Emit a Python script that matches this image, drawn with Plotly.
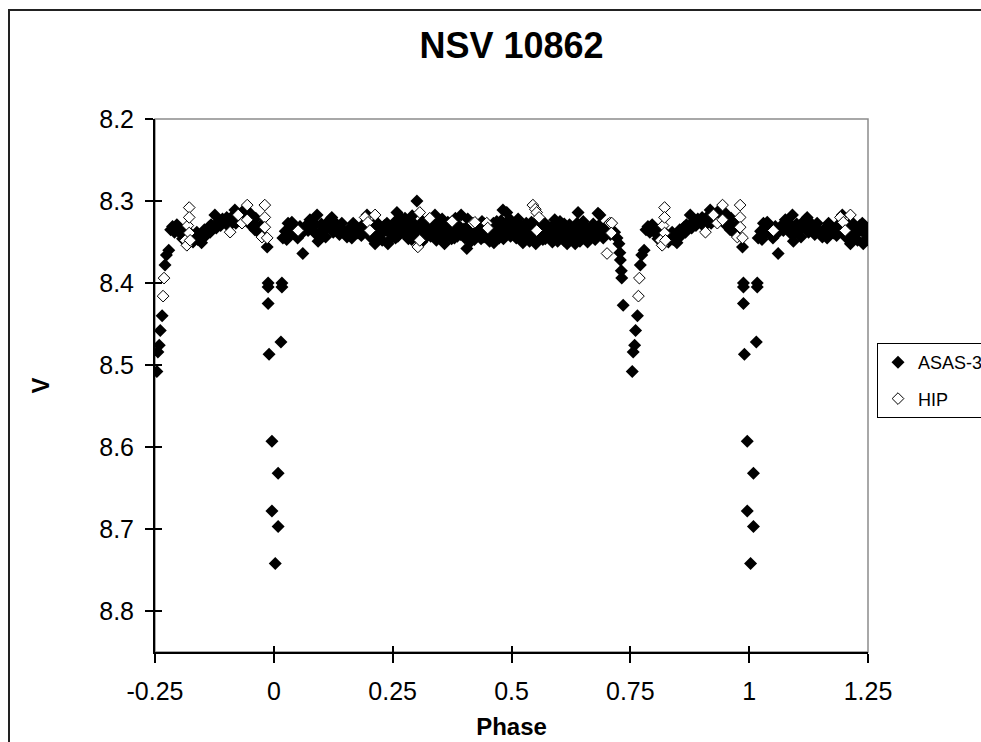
import plotly.graph_objects as go

# ---------------- data (one cycle, phase in [-0.25, 0.75)) ----------------
asas_phase = [
    -0.246, -0.244, -0.241, -0.239, -0.235, -0.229, -0.226, -0.221, -0.217, -0.213,
    -0.209, -0.204, -0.196, -0.192, -0.187, -0.170, -0.165, -0.160, -0.155, -0.150,
    -0.146, -0.141, -0.137, -0.132, -0.128, -0.124, -0.118, -0.112, -0.104, -0.099,
    -0.092, -0.086, -0.082, -0.077, -0.071, -0.066, -0.061, -0.050, -0.046, -0.043,
    -0.038, -0.035, -0.031, -0.027, -0.014, -0.012, -0.012, -0.012, -0.010, -0.004,
    -0.004,
    0.003, 0.009, 0.009, 0.015, 0.017, 0.017, 0.019, 0.024, 0.030, 0.034,
    0.038, 0.045, 0.050, 0.055, 0.061, 0.068, 0.076, 0.082, 0.088, 0.093,
    0.091, 0.100, 0.106, 0.112, 0.118, 0.122, 0.125, 0.130, 0.133, 0.138,
    0.143, 0.146, 0.150, 0.154, 0.160, 0.164, 0.167, 0.172, 0.177, 0.181,
    0.186, 0.188, 0.196, 0.200, 0.206, 0.209, 0.213, 0.218, 0.222, 0.228,
    0.233, 0.238, 0.240, 0.245,
    0.252, 0.256, 0.259, 0.263, 0.267, 0.270, 0.275, 0.279, 0.283, 0.287,
    0.291, 0.294, 0.298, 0.301, 0.305, 0.309, 0.313, 0.317, 0.321, 0.325,
    0.330, 0.334, 0.338, 0.342, 0.346, 0.350, 0.354, 0.358, 0.362, 0.366,
    0.370, 0.374, 0.378, 0.382, 0.386, 0.390, 0.394, 0.398, 0.402, 0.406,
    0.410, 0.414, 0.418, 0.422, 0.426, 0.430, 0.434, 0.438, 0.442, 0.446,
    0.450, 0.454, 0.458, 0.462, 0.466, 0.470, 0.474, 0.478, 0.482, 0.486,
    0.490, 0.494, 0.498,
    0.502, 0.506, 0.510, 0.514, 0.518, 0.522, 0.526, 0.530, 0.534, 0.538,
    0.542, 0.546, 0.550, 0.554, 0.558, 0.562, 0.566, 0.570, 0.574, 0.578,
    0.582, 0.586, 0.590, 0.594, 0.598, 0.602, 0.606, 0.610, 0.614, 0.618,
    0.622, 0.626, 0.630, 0.634, 0.638, 0.640, 0.644, 0.648, 0.652, 0.656,
    0.660, 0.664, 0.668, 0.672, 0.676, 0.682, 0.686, 0.690, 0.693, 0.698,
    0.703, 0.708, 0.712, 0.717, 0.722, 0.726, 0.728, 0.729, 0.731, 0.732,
    0.735,
    # second night of observations (interleaved)
    -0.200, -0.183, -0.175, -0.162, -0.152, -0.143, -0.134, -0.121, -0.108, -0.095,
    -0.080, -0.068, -0.056, -0.048, -0.040,
    0.027, 0.041, 0.058, 0.072, 0.085, 0.097, 0.109, 0.115, 0.128, 0.141,
    0.157, 0.170, 0.184, 0.192, 0.203, 0.216, 0.226, 0.236, 0.243, 0.248,
    0.254, 0.261, 0.268, 0.276, 0.284, 0.290, 0.297, 0.303, 0.311, 0.318,
    0.324, 0.331, 0.339, 0.345, 0.352, 0.359, 0.366, 0.372, 0.380, 0.387,
    0.393, 0.400, 0.408, 0.415, 0.421, 0.428, 0.436, 0.443, 0.449, 0.456,
    0.463, 0.469, 0.476, 0.483, 0.489, 0.496, 0.503, 0.510, 0.517, 0.524,
    0.531, 0.537, 0.544, 0.551, 0.557, 0.564, 0.571, 0.577, 0.584, 0.591,
    0.597, 0.604, 0.611, 0.617, 0.624, 0.631, 0.637, 0.644, 0.651, 0.657,
    0.664, 0.671, 0.678, 0.684,
]
asas_v = [
    8.508, 8.484, 8.476, 8.458, 8.440, 8.378, 8.366, 8.360, 8.335, 8.331,
    8.338, 8.329, 8.340, 8.346, 8.337, 8.350, 8.344, 8.347, 8.345, 8.339,
    8.335, 8.337, 8.332, 8.329, 8.331, 8.317, 8.326, 8.330, 8.324, 8.320,
    8.327, 8.318, 8.311, 8.322, 8.321, 8.316, 8.310, 8.315, 8.320, 8.327,
    8.321, 8.332, 8.339, 8.330, 8.356, 8.400, 8.405, 8.425, 8.487, 8.593,
    8.678,
    8.742, 8.632, 8.697, 8.472, 8.400, 8.405, 8.345, 8.337, 8.327, 8.340,
    8.326, 8.335, 8.345, 8.331, 8.364, 8.330, 8.323, 8.332, 8.340, 8.349,
    8.317, 8.328, 8.335, 8.327, 8.323, 8.320, 8.338, 8.331, 8.332, 8.341,
    8.327, 8.336, 8.340, 8.344, 8.333, 8.345, 8.327, 8.336, 8.339, 8.336,
    8.330, 8.332, 8.317, 8.338, 8.332, 8.330, 8.352, 8.342, 8.335, 8.348,
    8.330, 8.327, 8.352, 8.340,
    8.333, 8.345, 8.314, 8.338, 8.327, 8.322, 8.340, 8.333, 8.346, 8.329,
    8.318, 8.336, 8.342, 8.300, 8.331, 8.339, 8.325, 8.346, 8.335, 8.330,
    8.343, 8.337, 8.326, 8.348, 8.333, 8.339, 8.322, 8.344, 8.335, 8.341,
    8.328, 8.346, 8.337, 8.321, 8.343, 8.333, 8.317, 8.339, 8.345, 8.358,
    8.330, 8.340, 8.336, 8.347, 8.329, 8.341, 8.334, 8.325, 8.344, 8.337,
    8.330, 8.349, 8.336, 8.327, 8.342, 8.333, 8.345, 8.324, 8.311, 8.338,
    8.314, 8.335, 8.343,
    8.329, 8.340, 8.333, 8.322, 8.346, 8.337, 8.330, 8.343, 8.335, 8.349,
    8.326, 8.338, 8.344, 8.331, 8.340, 8.334, 8.347, 8.327, 8.339, 8.343,
    8.333, 8.350, 8.330, 8.338, 8.345, 8.325, 8.337, 8.348, 8.333, 8.341,
    8.329, 8.346, 8.336, 8.352, 8.327, 8.314, 8.339, 8.334, 8.345, 8.331,
    8.350, 8.337, 8.342, 8.328, 8.347, 8.315, 8.317, 8.338, 8.345, 8.333,
    8.329, 8.341, 8.336, 8.338, 8.345, 8.352, 8.363, 8.372, 8.385, 8.394,
    8.427,
    # second night of observations (interleaved)
    8.334, 8.343, 8.340, 8.338, 8.351, 8.342, 8.338, 8.333, 8.322, 8.331,
    8.327, 8.325, 8.319, 8.330, 8.335,
    8.347, 8.333, 8.340, 8.336, 8.327, 8.338, 8.344, 8.331, 8.326, 8.334,
    8.338, 8.330, 8.342, 8.328, 8.344, 8.326, 8.340, 8.336, 8.331, 8.345,
    8.326, 8.343, 8.335, 8.321, 8.338, 8.347, 8.329, 8.337, 8.350, 8.328,
    8.341, 8.334, 8.317, 8.344, 8.331, 8.352, 8.326, 8.338, 8.345, 8.329,
    8.341, 8.334, 8.322, 8.349, 8.331, 8.338, 8.346, 8.328, 8.340, 8.333,
    8.351, 8.325, 8.339, 8.346, 8.331, 8.322, 8.338, 8.345, 8.330, 8.351,
    8.327, 8.340, 8.333, 8.352, 8.324, 8.338, 8.346, 8.331, 8.340, 8.323,
    8.349, 8.336, 8.328, 8.352, 8.338, 8.344, 8.331, 8.349, 8.325, 8.340,
    8.346, 8.335, 8.341, 8.330,
]

hip_phase = [
    -0.233, -0.231, -0.186, -0.183, -0.181, -0.178, -0.178, -0.178, -0.176, -0.092,
    -0.075, -0.067, -0.056, -0.056, -0.025, -0.019, -0.019, -0.019, -0.014,
    0.051, 0.192, 0.198, 0.202, 0.213,
    0.303, 0.307, 0.307, 0.328, 0.375, 0.419, 0.423, 0.448, 0.450,
    0.545, 0.550, 0.553, 0.553, 0.558, 0.701, 0.707, 0.711, 0.710,
]
hip_v = [
    8.416, 8.394, 8.348, 8.354, 8.330, 8.308, 8.320, 8.339, 8.348, 8.338,
    8.317, 8.327, 8.305, 8.323, 8.344, 8.305, 8.320, 8.332, 8.345,
    8.336, 8.320, 8.326, 8.336, 8.317,
    8.356, 8.314, 8.348, 8.321, 8.325, 8.327, 8.326, 8.327, 8.333,
    8.305, 8.310, 8.314, 8.336, 8.320, 8.364, 8.327, 8.327, 8.339,
]

x_tickvals = [-0.25, 0, 0.25, 0.5, 0.75, 1, 1.25]
x_ticktext = ["-0.25", "0", "0.25", "0.5", "0.75", "1", "1.25"]
y_tickvals = [8.2, 8.3, 8.4, 8.5, 8.6, 8.7, 8.8]
y_ticktext = ["8.2", "8.3", "8.4", "8.5", "8.6", "8.7", "8.8"]

TITLE = "NSV 10862"
X_TITLE = "Phase"
Y_TITLE = "V"


def fold(phases, values):
    """Phase-fold over -0.25..1.25: points in [-0.25, 0.25) repeat one cycle later."""
    px, py = list(phases), list(values)
    for p, v in zip(phases, values):
        if p < 0.25 and p + 1 <= 1.25:
            px.append(p + 1)
            py.append(v)
    return px, py


ax, ay = fold(asas_phase, asas_v)
hx, hy = fold(hip_phase, hip_v)

FONT = "Liberation Sans, Arial, sans-serif"

fig = go.Figure()
fig.add_trace(go.Scatter(
    x=ax, y=ay, mode="markers", name="ASAS-3", legendgroup="a",
    marker=dict(symbol="diamond", size=10, color="black", line=dict(width=0)),
))
fig.add_trace(go.Scatter(
    x=hx, y=hy, mode="markers", name="HIP", legendgroup="b",
    marker=dict(symbol="diamond", size=9, color="white", line=dict(width=1, color="black")),
))
# helper trace to carry the inner half of the crossing tick marks
fig.add_trace(go.Scatter(x=[None], y=[None], xaxis="x2", yaxis="y2",
                         showlegend=False, hoverinfo="skip"))

fig.update_layout(
    width=981, height=742,
    margin=dict(l=155, r=113, t=119, b=90, autoexpand=False),
    paper_bgcolor="white", plot_bgcolor="white",
    font=dict(family=FONT, color="black"),
    title=dict(text="<b>" + TITLE + "</b>", x=0.5, xref="paper", xanchor="center",
               y=1 - 45 / 742, yref="container", yanchor="middle",
               font=dict(size=36, family=FONT, color="black")),
    xaxis=dict(range=[-0.25, 1.25], tickvals=x_tickvals, ticktext=x_ticktext,
               ticks="outside", ticklen=9, tickwidth=1.5, tickcolor="black",
               showline=True, linecolor="black", linewidth=2,
               showgrid=False, zeroline=False,
               tickfont=dict(size=25, family=FONT), ticklabelstandoff=7,
               title=dict(text="<b>" + X_TITLE + "</b>", standoff=14,
                          font=dict(size=24, family=FONT))),
    yaxis=dict(range=[8.85, 8.2], tickvals=y_tickvals, ticktext=y_ticktext,
               ticks="outside", ticklen=8, tickwidth=1.5, tickcolor="black",
               showline=True, linecolor="black", linewidth=2,
               showgrid=False, zeroline=False,
               tickfont=dict(size=25, family=FONT), ticklabelstandoff=6,
               title=dict(text="<b>" + Y_TITLE + "</b>", standoff=43,
                          font=dict(size=24, family=FONT))),
    xaxis2=dict(overlaying="x", anchor="y", range=[-0.25, 1.25], tickvals=x_tickvals,
                ticks="inside", ticklen=6, tickwidth=1.5, tickcolor="black",
                showticklabels=False, showline=False, showgrid=False, zeroline=False),
    yaxis2=dict(overlaying="y", anchor="x", range=[8.85, 8.2], tickvals=y_tickvals,
                ticks="inside", ticklen=7, tickwidth=1.5, tickcolor="black",
                showticklabels=False, showline=False, showgrid=False, zeroline=False),
    legend=dict(x=1 + 9 / 713, y=(652 - 343) / 533, xanchor="left", yanchor="top",
                bgcolor="white", bordercolor="black", borderwidth=1,
                font=dict(size=18, family=FONT), itemwidth=30, tracegroupgap=10),
    shapes=[
        # plot-area frame (grey top/right)
        dict(type="rect", xref="paper", yref="paper", x0=0, y0=0, x1=1, y1=1,
             line=dict(color="#8c8c8c", width=1.5), layer="below"),
        # outer chart frame, cut off at the right and bottom edges
        dict(type="rect", xref="paper", yref="paper",
             x0=(9 - 155) / 713, x1=(995 - 155) / 713,
             y0=(652 - 760) / 533, y1=(652 - 10) / 533,
             line=dict(color="#222222", width=2), layer="below"),
    ],
    showlegend=True,
)

fig.write_html("out.html", config={"displayModeBar": False},
               post_script="document.body.style.margin='0';")
